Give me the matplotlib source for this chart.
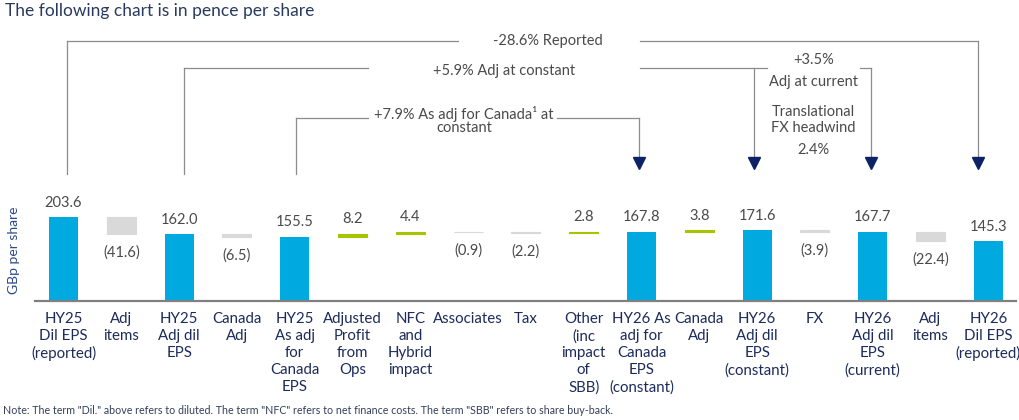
import matplotlib.pyplot as plt

plt.rcParams["font.family"] = ["Lato", "DejaVu Sans"]

# --- data -------------------------------------------------------------
categories = [
    "HY25\nDil EPS\n(reported)", "Adj\nitems", "HY25\nAdj dil\nEPS", "Canada\nAdj",
    "HY25\nAs adj\nfor\nCanada\nEPS", "Adjusted\nProfit\nfrom\nOps", "NFC\nand\nHybrid\nimpact",
    "Associates", "Tax", "Other\n(inc\nimpact\nof\nSBB)", "HY26 As\nadj for\nCanada\nEPS\n(constant)",
    "Canada\nAdj", "HY26\nAdj dil\nEPS\n(constant)", "FX", "HY26\nAdj dil\nEPS\n(current)",
    "Adj\nitems", "HY26\nDil EPS\n(reported)",
]
values = [203.6, -41.6, 162.0, -6.5, 155.5, 8.2, 4.4, -0.9, -2.2, 2.8,
          167.8, 3.8, 171.6, -3.9, 167.7, -22.4, 145.3]
is_total = [True, False, True, False, True, False, False, False, False, False,
            True, False, True, False, True, False, True]

BLUE = "#00a9e0"
GREY = "#d9d9d9"
GREEN = "#a8c400"
LINE = "#8c8c8c"
NAVY = "#0b2265"
TEXT = "#4a4a4a"
LABEL = "#1c2b5a"
FS = 10.5

# --- waterfall geometry ----------------------------------------------
bottoms, heights, colors = [], [], []
running = 0.0
for v, tot in zip(values, is_total):
    if tot:
        bottoms.append(0.0)
        heights.append(v)
        colors.append(BLUE)
        running = v
    else:
        bottoms.append(running if v > 0 else running + v)
        heights.append(abs(v))
        colors.append(GREEN if v > 0 else GREY)
        running += v

fig = plt.figure(figsize=(10.19, 4.2), dpi=100)
W, H = 1019, 420
# axes: baseline at pixel 301, top at pixel 30
ax = fig.add_axes([35 / W, (H - 301) / H, 981 / W, 271 / H])
ax.set_xlim(-0.493, 16.48)
ax.set_ylim(0, 658)

x = list(range(len(values)))
for i in x:
    if is_total[i]:
        ax.bar(i, heights[i], bottom=bottoms[i], width=0.5, color=colors[i], zorder=2)
    else:
        ax.bar(i, heights[i], bottom=bottoms[i], width=0.5, color=colors[i],
               edgecolor=colors[i], linewidth=0.8, zorder=2)

# value labels
for i, v in enumerate(values):
    top = bottoms[i] + heights[i]
    if v >= 0:
        ax.annotate(f"{v:.1f}", (i, top), xytext=(0, 10.5), textcoords="offset points",
                    ha="center", va="center", fontsize=FS, color=TEXT)
    else:
        ax.annotate(f"({abs(v):.1f})", (i, bottoms[i]), xytext=(0, -13.5),
                    textcoords="offset points", ha="center", va="center",
                    fontsize=FS, color=TEXT)

# --- comparison brackets ---------------------------------------------
def drop(xa, y_from, tip=True):
    if tip:
        ax.plot([xa, xa], [y_from, 340], color=LINE, lw=0.9, zorder=1)
        ax.plot(xa, 334, marker="v", markersize=9, color=NAVY, zorder=3, clip_on=False)
    else:
        ax.plot([xa, xa], [y_from, 308], color=LINE, lw=0.9, zorder=1)

# -28.6% Reported
y1 = 631
drop(0.055, y1, tip=False)
ax.plot([0.055, 6.83], [y1, y1], color=LINE, lw=0.9)
ax.plot([9.97, 15.82], [y1, y1], color=LINE, lw=0.9)
drop(15.82, y1)
ax.text(8.38, y1, "-28.6% Reported", ha="center", va="center", fontsize=FS, color=TEXT)

# +5.9% Adj at constant
y2 = 565.5
drop(2.09, y2, tip=False)
ax.plot([2.09, 5.27], [y2, y2], color=LINE, lw=0.9)
ax.plot([9.97, 12.17], [y2, y2], color=LINE, lw=0.9)
drop(11.95, y2)
ax.text(7.62, y2 - 8, "+5.9% Adj at constant", ha="center", va="center", fontsize=FS, color=TEXT)

# +7.9% As adj for Canada at constant
y3 = 445
drop(4.02, y3, tip=False)
ax.plot([4.02, 5.27], [y3, y3], color=LINE, lw=0.9)
ax.plot([8.54, 9.96], [y3, y3], color=LINE, lw=0.9)
drop(9.96, y3)
ax.text(6.93, y3 + 10, "+7.9% As adj for Canada\u00b9 at", ha="center", va="center",
        fontsize=FS, color=TEXT)
ax.text(6.93, y3 - 26, "constant", ha="center", va="center", fontsize=FS, color=TEXT)

# +3.5% Adj at current
ax.plot([13.78, 13.97], [y2, y2], color=LINE, lw=0.9)
drop(13.97, y2)
ax.text(12.98, 585, "+3.5%", ha="center", va="center", fontsize=FS, color=TEXT)
ax.text(12.98, 531.5, "Adj at current", ha="center", va="center", fontsize=FS, color=TEXT)
ax.text(12.98, 459, "Translational", ha="center", va="center", fontsize=FS, color=TEXT)
ax.text(12.98, 420, "FX headwind", ha="center", va="center", fontsize=FS, color=TEXT)
ax.text(12.98, 366.5, "2.4%", ha="center", va="center", fontsize=FS, color=TEXT)

# --- axes styling ------------------------------------------------------
for s in ["top", "right", "left"]:
    ax.spines[s].set_visible(False)
ax.spines["bottom"].set_color("#808080")
ax.spines["bottom"].set_linewidth(1.6)
ax.set_yticks([])
ax.set_xticks(x)
ax.set_xticklabels(categories, fontsize=10.8, color=LABEL, linespacing=1.27)
ax.tick_params(axis="x", length=0, pad=8)

fig.text(14 / W, 1 - 250 / H, "GBp per share", rotation=90, ha="center", va="center",
         fontsize=10, color="#2a4a8a")
fig.text(5 / W, 1 - 11 / H, "The following chart is in pence per share", ha="left",
         va="center", fontsize=12.5, color="#2a3a5e")
fig.text(3 / W, 1 - 411 / H,
         "Note: The term \"Dil.\" above refers to diluted. The term \"NFC\" refers to net finance costs. "
         "The term \"SBB\" refers to share buy-back.",
         ha="left", va="center", fontsize=7.7, color="#333f5a")

fig.savefig("out.png", dpi=100)
